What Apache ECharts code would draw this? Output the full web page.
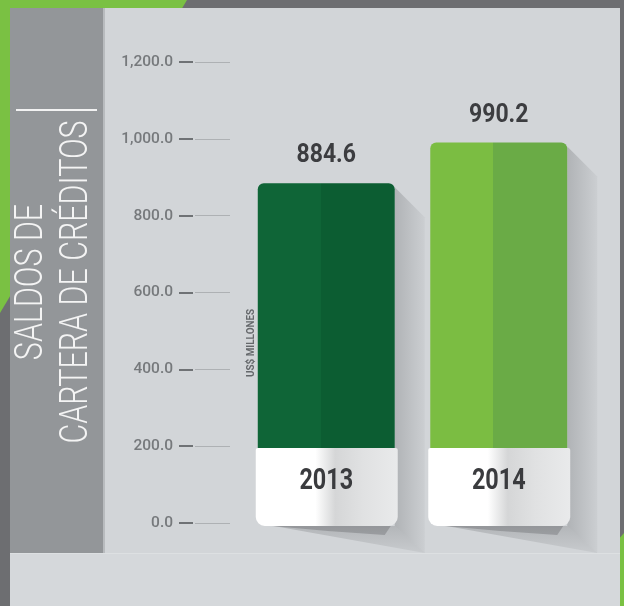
<!DOCTYPE html>
<html><head><meta charset="utf-8">
<script src="https://cdn.jsdelivr.net/npm/echarts@6/dist/echarts.min.js"></script>
<style>html,body{margin:0;padding:0;background:#6d6e71}#c{width:624px;height:606px}</style>
</head><body><div id="c"></div>
<script>
// ---- data ----
const categories = ['2013', '2014'];
const values = [884.6, 990.2];
const barColors = [['#0f6537', '#0c5d32'], ['#7bbd42', '#6aab46']];
const yTicks = [0, 200, 400, 600, 800, 1000, 1200];
const titleText = 'SALDOS DE\nCARTERA DE CRÉDITOS';
const unitLabel = 'US$ MILLONES';

const BOX_TOP_VALUE = 195;
const FONT = "Roboto, 'Liberation Sans', sans-serif";
const G = echarts.graphic;

function fmt(v) {
  return v.toLocaleString('en-US', { minimumFractionDigits: 1, maximumFractionDigits: 1 });
}

function renderItem(params, api) {
  const i = api.value(0);
  const v = api.value(1);
  const top = api.coord([i, v]);
  const base = api.coord([i, 0]);
  const band = api.size([1, 0])[0];
  const w = band * 0.794;
  const cx = top[0];
  const L = cx - w / 2, R = cx + w / 2, T = top[1];
  const B = base[1] + 3;
  const boxTop = api.coord([i, BOX_TOP_VALUE])[1];
  const floor = B + 27;
  const cols = barColors[i];
  return {
    type: 'group',
    children: [
      { type: 'polygon', shape: { points: [[R, T + 4], [R + 30, T + 34], [R + 30, floor], [R, B]] },
        style: { fill: new G.LinearGradient(0, 0, 1, 0, [
          { offset: 0, color: 'rgba(40,42,45,0.20)' }, { offset: 1, color: 'rgba(40,42,45,0.04)' }]) } },
      { type: 'polygon', shape: { points: [[L + 16, B], [R, B], [R + 30, floor]] },
        style: { fill: new G.LinearGradient(0, 0, 0, 1, [
          { offset: 0, color: 'rgba(40,42,45,0.18)' }, { offset: 1, color: 'rgba(40,42,45,0.06)' }]) } },
      { type: 'polygon', shape: { points: [[L + 14, B], [R - 4, B], [R - 10, B + 9], [L + 70, B + 5]] },
        style: { fill: 'rgba(40,42,45,0.22)' } },
      { type: 'rect', shape: { x: L, y: T, width: w, height: boxTop - T + 10, r: [6, 6, 0, 0] },
        style: { fill: new G.LinearGradient(0, 0, 1, 0, [
          { offset: 0, color: cols[0] }, { offset: 0.46, color: cols[0] },
          { offset: 0.46, color: cols[1] }, { offset: 1, color: cols[1] }]) } },
      { type: 'rect', shape: { x: L - 2, y: boxTop, width: w + 5, height: B - boxTop, r: [2, 2, 9, 9] },
        style: { fill: new G.LinearGradient(0, 0, 1, 0, [
          { offset: 0, color: '#ffffff' }, { offset: 0.42, color: '#ffffff' },
          { offset: 0.56, color: '#d5d6d7' }, { offset: 0.75, color: '#e0e1e2' }, { offset: 1, color: '#e9eaeb' }]) } },
      { type: 'text', x: cx, y: boxTop + 33, scaleX: 0.78,
        style: { text: categories[i], x: 0, y: 0, align: 'center', verticalAlign: 'middle',
          font: 'bold 30px ' + FONT, fill: '#3a3b3e' } },
      { type: 'text', x: cx, y: T - 27, scaleX: 0.92,
        style: { text: fmt(v), x: 0, y: 0, align: 'center', verticalAlign: 'middle',
          font: 'bold 25px ' + FONT, fill: '#3c3d40' } }
    ]
  };
}

const chart = echarts.init(document.getElementById('c'));
const yMax = Math.max(...yTicks);
const yStep = yTicks[1] - yTicks[0];
chart.setOption({
  animation: false,
  backgroundColor: '#6d6e71',
  grid: { left: 240, right: 39, top: 62, bottom: 83 },
  xAxis: { type: 'category', data: categories, show: false },
  yAxis: [
    { type: 'value', min: 0, max: yMax, interval: yStep, position: 'left', offset: 10, z: 5,
      axisLine: { show: false }, splitLine: { show: false },
      axisTick: { show: true, length: 35, lineStyle: { color: '#aeb1b4', width: 1 } },
      axisLabel: { margin: 57, formatter: fmt, color: '#76797c', fontFamily: 'Roboto', fontWeight: 500, fontSize: 15.5,
        verticalAlign: 'middle', padding: [0, 0, 9, 0] } },
    { type: 'value', min: 0, max: yMax, interval: yStep, position: 'left', offset: 47, z: 5,
      axisLine: { show: false }, splitLine: { show: false }, axisLabel: { show: false },
      axisTick: { show: true, length: 14, lineStyle: { color: '#6f7275', width: 2 } } }
  ],
  series: [{
    type: 'custom', z: 5, clip: false,
    renderItem: renderItem,
    data: values.map((v, i) => [i, v])
  }],
  graphic: [
    { type: 'polygon', z: 0, shape: { points: [[0, 0], [187, 0], [0, 313]] }, style: { fill: '#7ac143' } },
    { type: 'polygon', z: 0, shape: { points: [[624, 533], [624, 606], [560, 606]] }, style: { fill: '#7ac143' } },
    { type: 'rect', z: 0, shape: { x: 10, y: 8, width: 610, height: 598 }, style: { fill: '#d2d5d8' } },
    { type: 'rect', z: 0, shape: { x: 10, y: 553, width: 610, height: 53 }, style: { fill: '#d5d8db' } },
    { type: 'rect', z: 0, shape: { x: 10, y: 553, width: 610, height: 1 }, style: { fill: '#dde0e2' } },
    { type: 'rect', z: 0, shape: { x: 10, y: 8, width: 93, height: 545 }, style: { fill: '#939699' } },
    { type: 'rect', z: 0, shape: { x: 103, y: 8, width: 2, height: 545 }, style: { fill: '#b8bbbe' } },
    { type: 'line', z: 1, shape: { x1: 16, y1: 110, x2: 97, y2: 110 }, style: { stroke: '#f2f2f2', lineWidth: 2 } },
    { type: 'text', z: 1, x: 55, y: 282, rotation: Math.PI / 2, scaleX: 0.78,
      style: { text: titleText, align: 'center', verticalAlign: 'middle', lineHeight: 45,
        font: '300 39px Roboto, sans-serif', fill: '#f4f4f4' } },
    { type: 'text', z: 6, x: 251, y: 343, rotation: Math.PI / 2, scaleX: 0.9,
      style: { text: unitLabel, align: 'center', verticalAlign: 'middle',
        font: 'bold 11px ' + FONT, fill: '#65686b' } }
  ]
});
</script>
</body></html>
